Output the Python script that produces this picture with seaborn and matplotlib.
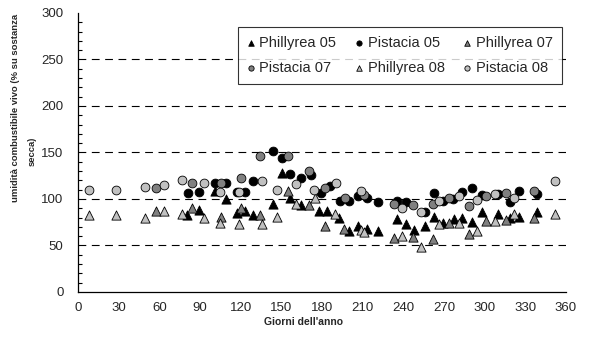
import matplotlib
matplotlib.use('Agg')
import matplotlib.pyplot as plt
import seaborn as sns
from matplotlib.ticker import MultipleLocator

# Dati: giorno dell'anno e umidità (% s.s.)
ph05_giorni = [80.6, 89, 101, 109, 117, 123, 129, 143.6, 150.7, 156.6, 164.7, 178, 184, 192.7,
               200, 206.5, 213, 221, 235, 241.7, 248, 256, 262.4, 269.5, 277.6, 283.6, 290.7,
               298, 310, 319, 325, 338.5]
ph05_umid = [82.5, 88, 109, 100, 85, 87.5, 83, 94, 128, 101, 93, 87, 87, 80,
             66, 71, 68, 65, 78, 73, 67, 71, 81, 74, 78, 80, 75,
             86, 84, 79, 81, 86]

pi05_giorni = [81, 89, 101, 109, 117, 123, 129, 143.6, 150.7, 156.6, 164.7, 172, 179, 186,
               193, 200, 206.5, 213, 221, 235, 242, 256, 262.4, 269.5, 277, 283.6, 290.7,
               298, 310, 319, 325, 338.5]
pi05_umid = [106, 107.5, 117, 117, 107.5, 107.5, 119, 151, 144, 127, 123, 126, 106, 114,
             98, 98, 103, 101, 97, 98, 97, 86, 106, 98, 100, 107.5, 112,
             104, 105, 97, 109, 105]

ph07_giorni = [57.6, 84, 105.6, 120, 134, 155, 170.6, 182, 196, 233, 247, 262, 273.6,
               288.6, 301, 315.7, 336.6]
ph07_umid = [87, 90, 81, 90, 83, 108, 93, 71, 68, 57.5, 59, 57, 74, 62, 76, 77, 80]

pi07_giorni = [57.6, 84, 105.6, 120, 134, 155, 170.6, 182, 197, 210.6, 233, 247, 262,
               273.6, 288.6, 301, 315.7, 336.6]
pi07_umid = [112, 117, 117, 122.5, 146, 146, 130, 112, 101, 104, 95, 93, 95, 101, 92,
             103, 106, 108]

ph08_giorni = [8, 28, 49, 63, 77, 93, 105, 119, 136, 147, 160.6, 175, 189.6, 209, 210.6,
               239, 253, 266, 281, 294, 307.6, 321.6, 352]
ph08_umid = [83, 83, 80, 87, 84, 79, 74, 73, 72.5, 81, 94, 101, 84, 67, 64,
             60, 48, 73, 74, 65, 76, 84, 84]

pi08_giorni = [8, 28, 49, 63, 77, 93, 105, 119, 136, 147, 160.6, 174, 190, 209, 239, 253,
               266, 281, 294, 307.6, 321.6, 352]
pi08_umid = [110, 110, 112.5, 115, 120, 117, 107.5, 107.5, 119, 110, 116, 110, 117, 108,
             90, 86, 98, 103, 99, 105, 101, 119]

serie = [
    ('Phillyrea 05', ph05_giorni, ph05_umid, '^', 'black'),
    ('Pistacia 05', pi05_giorni, pi05_umid, 'o', 'black'),
    ('Phillyrea 07', ph07_giorni, ph07_umid, '^', '#808080'),
    ('Pistacia 07', pi07_giorni, pi07_umid, 'o', '#808080'),
    ('Phillyrea 08', ph08_giorni, ph08_umid, '^', '#c0c0c0'),
    ('Pistacia 08', pi08_giorni, pi08_umid, 'o', '#c0c0c0'),
]

sns.set_style('white')
plt.rcParams['font.family'] = ['Liberation Sans', 'DejaVu Sans']

fig = plt.figure(figsize=(5.92, 3.41), dpi=100)
ax = fig.add_axes([0.132, 0.144, 0.824, 0.818])

# Griglia tratteggiata orizzontale
for yv in [50, 100, 150, 200, 250]:
    ax.axhline(yv, color='black', linestyle=(0, (7, 5)), linewidth=0.8, zorder=0)

for nome, gg, uu, mk, col in serie:
    sns.scatterplot(x=gg, y=uu, ax=ax, marker=mk, color=col, edgecolor='black',
                    linewidth=0.6, s=40 if mk == 'o' else 44, label=nome, zorder=3)

ax.set_xlim(0, 360)
ax.set_ylim(0, 300)
ax.xaxis.set_major_locator(MultipleLocator(30))
ax.yaxis.set_major_locator(MultipleLocator(50))
ax.yaxis.set_minor_locator(MultipleLocator(10))
ax.tick_params(axis='x', which='major', direction='out', length=4, width=0.8,
               labelsize=9.5, color='black', pad=3)
ax.tick_params(axis='y', which='major', direction='inout', length=7, width=0.8,
               labelsize=9.5, color='black', pad=7)
ax.tick_params(axis='y', which='minor', direction='in', length=3, width=0.8, color='black', left=True)

for lato in ['top', 'right']:
    ax.spines[lato].set_visible(False)
for lato in ['left', 'bottom']:
    ax.spines[lato].set_color('black')
    ax.spines[lato].set_linewidth(0.9)

ax.set_xlabel('')
ax.set_ylabel('')
fig.text(0.512, 0.055, "Giorni dell'anno", ha='center', va='center', fontsize=7.5,
         fontweight='bold')
fig.text(0.026, 0.683, 'umidità combustibile vivo (% su sostanza', rotation=90, ha='center',
         va='center', fontsize=6.8, fontweight='bold')
fig.text(0.055, 0.557, 'secca)', rotation=90, ha='center', va='center', fontsize=6.8,
         fontweight='bold')

# Legenda: ordine per righe come nell'originale
handles, labels = ax.get_legend_handles_labels()
ordine = [0, 3, 1, 4, 2, 5]
leg = ax.legend([handles[i] for i in ordine], [labels[i] for i in ordine], ncol=3,
                loc='upper left', bbox_to_anchor=(0.328, 0.948), borderaxespad=0,
                fontsize=10.5, frameon=True, fancybox=False, edgecolor='black',
                markerscale=0.6, handlelength=0.5, handletextpad=0.35, columnspacing=1.3,
                borderpad=0.6, labelspacing=0.75)
leg.get_frame().set_linewidth(0.8)

fig.savefig('out.png', dpi=100)
